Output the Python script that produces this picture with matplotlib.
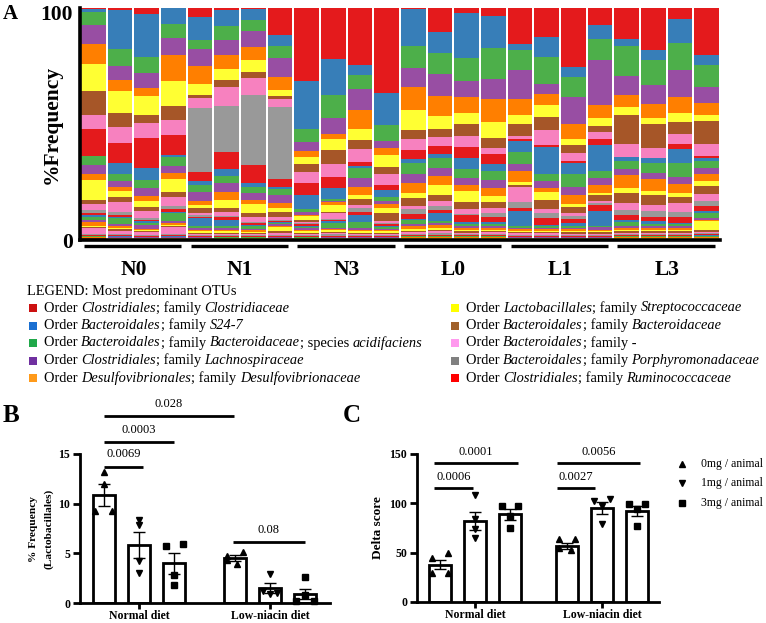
import matplotlib
matplotlib.use('Agg')
import matplotlib.pyplot as plt
import numpy as np
from matplotlib.lines import Line2D
from matplotlib.patches import Rectangle
from matplotlib.font_manager import FontProperties
from matplotlib.transforms import ScaledTranslation

plt.rcParams['font.family'] = ['Liberation Serif', 'DejaVu Serif']

W, H = 766, 623

# ---------------- Panel A data ----------------
otu_colors = ['#e41a1c', '#377eb8', '#4daf4a', '#984ea3', '#ff7f00',
              '#ffff33', '#a65628', '#f781bf', '#999999']
group_labels = ['N0', 'N1', 'N3', 'L0', 'L1', 'L3']

N0_otus = [
    [0.6,1.2,5.6,8.1,8.8,11.7,10.7,5.8,0.0, 11.8,0.0,4.0,3.8,2.7,8.7,1.7,2.6,1.2, 0.8,0.8,1.5,0.8,1.8,0.6,0.5,2.2,0.6, 0.3,0.2,0.3,0.2,0.3,0.2,0.3,0.2,0.2],
    [0.9,17.0,7.4,5.9,4.9,9.5,6.2,6.8,0.0, 8.5,4.8,3.2,2.5,1.6,2.9,1.9,4.5,1.3, 1.0,0.4,2.4,0.8,1.0,0.5,0.8,1.5,0.4, 0.3,0.2,0.3,0.2,0.2,0.2,0.2,0.2,0.2],
    [2.6,18.8,7.1,6.3,3.6,8.1,3.8,6.6,0.0, 12.8,5.3,3.3,3.8,2.2,2.5,1.9,2.7,0.9, 0.8,0.5,1.2,1.5,0.6,0.4,0.5,1.3,0.3, 0.3,0.2,0.2,0.2,0.2,0.2,0.2,0.2,0.1],
    [0.2,6.9,5.8,7.4,11.7,10.8,5.9,6.8,0.0, 8.8,0.7,3.9,3.2,2.6,5.6,2.3,3.9,1.2, 1.4,0.5,3.3,0.9,0.8,0.4,0.6,3.2,0.4, 0.3,0.2,0.3,0.2,0.2,0.2,0.2,0.2,0.2],
]
N1_otus = [
    [4.0,9.8,4.0,7.5,8.1,4.6,1.3,4.5,27.7, 4.0,1.7,3.2,3.8,1.7,1.4,2.2,1.0,0.7, 0.5,3.7,0.8,0.6,0.7,0.6,0.4,0.8,0.3, 0.2,0.2,0.2,0.2,0.2,0.2,0.2,0.2,0.1],
    [0.9,7.2,5.8,6.9,6.1,4.6,3.3,8.2,20.3, 7.5,3.2,3.0,3.9,3.6,3.6,1.9,1.7,0.5, 1.3,2.6,0.8,0.7,0.8,0.5,0.5,0.6,0.5, 0.2,0.2,0.2,0.2,0.2,0.2,0.2,0.2,0.1],
    [0.6,4.9,4.5,7.2,5.8,5.2,2.7,7.6,30.6, 7.9,1.7,2.5,3.3,1.7,4.0,1.7,2.3,0.6, 0.8,0.5,1.2,0.5,0.6,0.5,0.4,0.6,0.5, 0.2,0.2,0.2,0.2,0.2,0.2,0.2,0.2,0.1],
    [12.0,4.8,5.0,8.2,5.9,2.5,1.2,3.9,31.5, 3.2,1.0,2.6,3.3,2.2,2.0,2.3,1.0,0.5, 0.6,0.5,0.5,0.5,0.6,1.9,0.6,1.0,0.5, 0.2,0.2,0.2,0.2,0.2,0.2,0.2,0.2,0.1],
]
N3_otus = [
    [32.3,20.9,5.9,4.0,2.6,3.2,3.6,4.5,0.0, 5.5,6.3,1.2,1.3,0.6,1.7,0.6,0.7,0.4, 1.0,0.4,0.5,0.5,0.8,0.6,0.5,0.5,0.5, 0.2,0.2,0.2,0.2,0.2,0.2,0.2,0.2,0.1],
    [22.2,16.2,10.1,6.9,2.3,4.8,6.2,5.6,0.0, 4.8,4.6,1.2,0.5,1.0,3.0,0.6,2.6,0.5, 0.6,0.6,2.2,0.5,0.6,0.6,0.6,0.5,0.9, 0.2,0.2,0.2,0.2,0.2,0.2,0.2,0.2,0.1],
    [24.4,4.6,5.8,8.9,8.4,4.8,3.6,5.8,0.0, 1.7,1.0,4.0,3.8,3.8,1.4,2.6,1.4,1.9, 1.0,3.2,2.6,0.8,0.6,0.5,0.5,0.5,0.5, 0.2,0.2,0.2,0.2,0.2,0.2,0.2,0.2,0.1],
    [36.7,13.7,7.2,2.9,2.9,5.3,2.9,4.8,0.0, 2.2,3.2,1.4,1.4,1.7,2.2,3.3,1.2,0.5, 0.7,0.5,0.6,0.5,0.6,0.6,0.5,0.5,0.5, 0.2,0.2,0.2,0.2,0.2,0.2,0.2,0.2,0.1],
]
L0_otus = [
    [0.6,15.7,9.8,8.4,9.8,8.5,3.9,4.8,0.0, 4.0,1.7,4.8,3.9,4.3,2.5,3.3,1.4,2.2, 2.2,0.5,1.4,1.2,1.0,0.8,0.8,0.6,0.6, 0.3,0.2,0.3,0.2,0.3,0.2,0.2,0.2,0.2],
    [10.4,9.2,8.9,9.8,8.7,5.3,3.8,3.6,0.0, 3.5,1.9,4.3,3.6,3.9,4.0,2.9,2.2,1.4, 1.7,3.3,1.0,0.9,1.0,0.8,0.8,0.8,0.8, 0.3,0.2,0.3,0.2,0.3,0.2,0.2,0.2,0.2],
    [2.3,19.5,9.8,6.8,7.2,4.8,5.1,4.6,0.0, 4.6,4.8,4.0,3.3,2.5,4.6,3.2,1.9,0.5, 3.3,0.6,1.0,0.8,0.8,0.6,0.6,0.6,0.5, 0.3,0.2,0.3,0.2,0.3,0.2,0.2,0.2,0.2],
    [3.3,14.1,13.4,8.5,10.1,6.5,4.5,2.5,0.0, 4.6,3.0,3.9,3.3,3.2,2.6,2.7,2.3,1.7, 2.2,0.8,0.8,0.8,0.8,0.6,0.6,0.6,0.6, 0.3,0.2,0.3,0.2,0.3,0.2,0.2,0.2,0.2],
]
L1_otus = [
    [15.7,2.5,8.7,12.6,7.2,4.0,5.1,1.4,0.0, 0.7,5.1,5.1,3.2,4.8,1.0,0.9,6.8,2.6, 1.3,6.6,0.6,0.7,0.6,0.5,0.6,0.6,0.6, 0.2,0.2,0.2,0.2,0.2,0.2,0.2,0.2,0.1],
    [12.7,8.4,12.0,4.2,4.9,5.3,5.3,6.8,0.0, 0.9,11.5,3.2,3.2,1.6,3.6,3.9,1.7,1.9, 3.2,0.6,0.7,0.5,0.6,0.6,0.6,0.6,0.6, 0.2,0.2,0.2,0.2,0.2,0.2,0.2,0.2,0.1],
    [25.8,4.2,8.7,11.5,6.5,2.6,3.6,3.3,0.0, 1.0,4.6,5.9,3.2,4.0,1.3,2.9,1.2,1.4, 1.4,1.4,0.7,0.7,0.7,0.6,0.6,0.6,0.5, 0.2,0.2,0.2,0.2,0.2,0.2,0.2,0.2,0.1],
    [7.6,5.8,9.4,19.6,5.6,3.8,2.7,3.0,0.0, 2.7,11.0,3.2,3.2,3.3,1.2,2.5,0.7,1.0, 2.6,6.5,0.4,1.4,0.6,0.5,0.5,0.6,0.5, 0.2,0.2,0.2,0.2,0.2,0.2,0.2,0.2,0.1],
]
L3_otus = [
    [13.4,3.0,13.0,8.2,5.3,3.6,12.4,5.6,0.0, 0.0,1.9,3.6,2.6,5.6,2.2,4.3,3.0,2.2, 2.0,0.8,1.9,0.8,0.8,0.6,0.6,0.6,0.5, 0.3,0.2,0.3,0.2,0.3,0.2,0.2,0.2,0.2],
    [18.2,4.3,10.8,7.9,6.1,2.6,10.5,4.3,0.0, 0.0,2.0,4.5,2.5,5.1,1.9,4.2,2.3,2.7, 1.9,1.4,0.8,0.7,0.8,0.6,0.6,0.6,0.5, 0.3,0.2,0.3,0.2,0.3,0.2,0.2,0.2,0.2],
    [4.9,10.1,11.8,11.8,6.9,3.6,5.3,4.3,0.0, 2.2,6.2,5.8,3.3,3.9,1.4,2.9,3.6,2.2, 2.5,0.6,1.0,0.7,0.8,0.6,0.6,0.6,0.5, 0.3,0.2,0.3,0.2,0.3,0.2,0.2,0.2,0.2],
    [20.5,4.5,9.7,6.9,5.5,2.6,10.0,5.1,0.0, 0.9,1.7,2.9,2.6,3.2,2.2,3.6,2.9,2.2, 2.2,0.9,2.2,0.8,0.6,3.9,0.6,0.5,0.5, 0.3,0.8,0.3,0.2,0.3,0.2,0.2,0.2,0.2],
]

legend_title = 'LEGEND: Most predominant OTUs'
legend_colors = ['#cc1010', '#1a6fd1', '#20a84a', '#7030a0', '#ff9a1a',
                 '#ffff00', '#a0602a', '#ff99ee', '#808080', '#ff0000']
legend_entries = [
    [('Order ', 0), ('Clostridiales', 1), ('; family ', 0), ('Clostridiaceae', 1)],
    [('Order ', 0), ('Bacteroidales', 1), ('; family ', 0), ('S24-7', 1)],
    [('Order ', 0), ('Bacteroidales', 1), ('; family ', 0), ('Bacteroidaceae', 1), ('; species ', 0), ('acidifaciens', 1)],
    [('Order ', 0), ('Clostridiales', 1), ('; family ', 0), ('Lachnospiraceae', 1)],
    [('Order ', 0), ('Desulfovibrionales', 1), ('; family ', 0), ('Desulfovibrionaceae', 1)],
    [('Order ', 0), ('Lactobacillales', 1), ('; family ', 0), ('Streptococcaceae', 1)],
    [('Order ', 0), ('Bacteroidales', 1), ('; family ', 0), ('Bacteroidaceae', 1)],
    [('Order ', 0), ('Bacteroidales', 1), ('; family -', 0)],
    [('Order ', 0), ('Bacteroidales', 1), ('; family ', 0), ('Porphyromonadaceae', 1)],
    [('Order ', 0), ('Clostridiales', 1), ('; family ', 0), ('Ruminococcaceae', 1)],
]

# ---------------- Panel B / C data ----------------
diet_labels = ['Normal diet', 'Low-niacin diet']
dose_labels = ['0mg / animal', '1mg / animal', '3mg / animal']
dose_markers = ['^', 'v', 's']

b_mean = [10.9, 5.8, 4.0, 4.5, 1.5, 0.95]
b_sem = [1.1, 1.3, 1.05, 0.3, 0.5, 0.5]
b_points = [[13.2, 12.0, 9.3, 9.3], [8.4, 7.9, 4.2, 3.0], [5.7, 5.9, 2.8, 1.8],
            [4.75, 5.15, 4.35, 3.9], [2.9, 1.2, 1.0, 0.9], [2.6, 0.8, 0.2, 0.2]]
b_sig_labels = ['0.0069', '0.0003', '0.028', '0.08']
b_sig_y = [13.7, 16.2, 18.8, 6.1]
b_sig_from = [0, 0, 0, 3.69]
b_sig_to = [1.1, 2.0, 3.71, 5.74]

c_mean = [38, 82, 89, 57, 95, 92]
c_sem = [5, 9, 5.5, 3, 6, 5]
c_points = [[45, 49.4, 29, 29], [108, 84, 74, 65], [97.5, 97.5, 87.4, 74.8],
            [63.5, 63.5, 55, 53], [102, 104, 97, 79], [99.6, 99.6, 94.5, 77]]
c_sig_labels = ['0.0001', '0.0006', '0.0056', '0.0027']
c_sig_y = [141, 115.5, 141, 115.5]
c_sig_from = [-0.17, -0.17, 3.34, 3.34]
c_sig_to = [2.23, 0.94, 5.71, 4.43]

# ---------------- Figure ----------------
fig = plt.figure(figsize=(W / 100, H / 100), dpi=100)


def fx(px):
    return px / W


def fy(py):
    return 1 - py / H


# Panel A
axA = fig.add_axes([fx(80), fy(240), 640 / W, 232 / H])
all_samples = N0_otus + N1_otus + N3_otus + L0_otus + L1_otus + L3_otus
M = np.array(all_samples, dtype=float)
M = M / M.sum(axis=1, keepdims=True) * 100.0
cum = np.cumsum(M, axis=1)
xA = np.arange(M.shape[0])
for j in range(M.shape[1]):
    bottoms = 100.0 - cum[:, j]
    axA.bar(xA, M[:, j], bottom=bottoms, width=0.92,
            color=otu_colors[j % 9], linewidth=0, zorder=2)
axA.set_xlim(-0.5, 23.5)
axA.set_ylim(0, 100)
axA.set_yticks([0, 100])
axA.set_yticklabels(['0', '100'], fontsize=15.5, fontweight='bold')
axA.tick_params(axis='y', length=0, pad=5)
top_lab = axA.get_yticklabels()[1]
top_lab.set_transform(top_lab.get_transform() + ScaledTranslation(0, -5 / 100, fig.dpi_scale_trans))
axA.set_xticks([])
for s in ['top', 'right']:
    axA.spines[s].set_visible(False)
for s in ['left', 'bottom']:
    axA.spines[s].set_linewidth(2.6)
axA.set_ylabel('%Frequency', fontsize=15.5, fontweight='bold', va='center')
axA.yaxis.set_label_coords(-0.044, 0.5)
trA = axA.get_xaxis_transform()
for g, lab in enumerate(group_labels):
    x0 = g * 4 - 0.5 + 0.15
    x1 = g * 4 + 3.5 - 0.2
    axA.plot([x0, x1], [-0.027, -0.027], color='black', lw=2.4,
             transform=trA, clip_on=False, solid_capstyle='butt')
    axA.text(g * 4 + 1.5, -0.13, lab, transform=trA, ha='center', va='center',
             fontsize=15.5, fontweight='bold')

fig.text(fx(3), fy(14), 'A', fontsize=15, fontweight='bold', va='center', ha='left')

# Legend (rich text)
renderer = fig.canvas.get_renderer()


def text_width(s, italic, size):
    fp = FontProperties(family=['Liberation Serif'], style='italic' if italic else 'normal', size=size)
    t1 = fig.text(0, 0, '|' + s + '|', fontproperties=fp)
    t2 = fig.text(0, 0, '||', fontproperties=fp)
    w = t1.get_window_extent(renderer).width - t2.get_window_extent(renderer).width
    t1.remove()
    t2.remove()
    return w


leg_size = 10.4
fig.text(fx(27), fy(291), legend_title, fontsize=leg_size, va='center', ha='left')
row_y = [308, 325.5, 343, 360.5, 378]
for i, parts in enumerate(legend_entries):
    col = i // 5
    ypx = row_y[i % 5]
    sq_x = 29 if col == 0 else 451
    fig.patches.append(Rectangle((fx(sq_x), fy(ypx + 4)), 8 / W, 8 / H,
                                 transform=fig.transFigure, facecolor=legend_colors[i],
                                 edgecolor='none'))
    xpx = sq_x + 15
    for s, it in parts:
        fig.text(fx(xpx), fy(ypx), s, fontsize=leg_size, style='italic' if it else 'normal',
                 va='center', ha='left')
        xpx += text_width(s, it, leg_size)


def bar_panel(ax, xpos, means, sems, points, jitter, ymax, yticks):
    ax.bar(xpos, means, width=0.63, facecolor='white', edgecolor='black',
           linewidth=2.0, zorder=2)
    ax.errorbar(xpos, means, yerr=sems, fmt='none', ecolor='black',
                elinewidth=1.0, capsize=4, capthick=1.0, zorder=3)
    for k, (xp, pts) in enumerate(zip(xpos, points)):
        for v, dj in zip(pts, jitter[k]):
            ax.plot(xp + dj, v, marker=dose_markers[k % 3], color='black',
                    ms=5, linestyle='none', zorder=4, clip_on=False)
    ax.set_ylim(0, ymax)
    ax.set_yticks(yticks)
    ax.set_yticklabels([str(t) for t in yticks], fontsize=8.5, fontweight='bold')
    for s in ['top', 'right']:
        ax.spines[s].set_visible(False)
    for s in ['left', 'bottom']:
        ax.spines[s].set_linewidth(2.0)
    ax.tick_params(axis='y', direction='out', length=5, width=2.0, pad=2)
    ax.tick_params(axis='x', direction='out', length=4, width=2.0, pad=1)
    ax.set_xticks([(xpos[0] + xpos[2]) / 2, (xpos[3] + xpos[5]) / 2])
    ax.set_xticklabels(diet_labels, fontsize=8.5, fontweight='bold')


def sig(ax, x0, x1, y, lab, dy):
    ax.plot([x0, x1], [y, y], color='black', lw=2.0, clip_on=False,
            solid_capstyle='butt')
    ax.text((x0 + x1) / 2, y + dy, lab, ha='center', va='center', fontsize=9,
            clip_on=False)


# Panel B
axB = fig.add_axes([fx(80), fy(603), 250 / W, 149 / H])
xB = [0, 1, 2, 3.74, 4.74, 5.74]
jB = [[0, 0, -0.25, 0.23], [0, 0, 0, 0], [-0.22, 0.25, 0, 0],
      [-0.22, 0.22, -0.22, 0.05], [0, -0.2, 0.2, 0], [0, 0, -0.25, 0.25]]
bar_panel(axB, xB, b_mean, b_sem, b_points, jB, 15, [0, 5, 10, 15])
axB.set_xlim(-0.69, 6.46)
for x0, x1, y, lab in zip(b_sig_from, b_sig_to, b_sig_y, b_sig_labels):
    sig(axB, x0, x1, y, lab, 1.25)
axB.set_ylabel('% Frequency\n(Lactobacillales)', fontsize=8.2, fontweight='bold',
               linespacing=1.8, va='center')
axB.yaxis.set_label_coords(-0.155, 0.5)
fig.text(fx(3), fy(415), 'B', fontsize=18, fontweight='bold', va='center', ha='left')

# Panel C
axC = fig.add_axes([fx(417), fy(602), 242 / W, 148 / H])
xC = [0, 1, 2, 3.63, 4.63, 5.63]
jC = [[-0.24, 0.24, -0.24, 0.24], [0, 0, 0, 0], [-0.24, 0.24, 0, 0],
      [-0.24, 0.24, -0.24, 0.1], [-0.24, 0.24, 0, 0], [-0.24, 0.24, 0, 0]]
bar_panel(axC, xC, c_mean, c_sem, c_points, jC, 150, [0, 50, 100, 150])
axC.set_xlim(-0.66, 6.26)
for x0, x1, y, lab in zip(c_sig_from, c_sig_to, c_sig_y, c_sig_labels):
    sig(axC, x0, x1, y, lab, 11)
axC.set_ylabel('Delta score', fontsize=9.5, fontweight='bold', va='center')
axC.yaxis.set_label_coords(-0.161, 0.5)
fig.text(fx(343), fy(415), 'C', fontsize=18, fontweight='bold', va='center', ha='left')

# Dose legend
leg_rows = [464, 483, 503]
for mk, lab, ypx in zip(dose_markers, dose_labels, leg_rows):
    fig.add_artist(Line2D([fx(682)], [fy(ypx)], marker=mk, color='black', ms=4.5,
                          linestyle='none', transform=fig.transFigure))
    fig.text(fx(701), fy(ypx), lab, fontsize=8.5, va='center', ha='left')

fig.savefig('out.png', dpi=100)
